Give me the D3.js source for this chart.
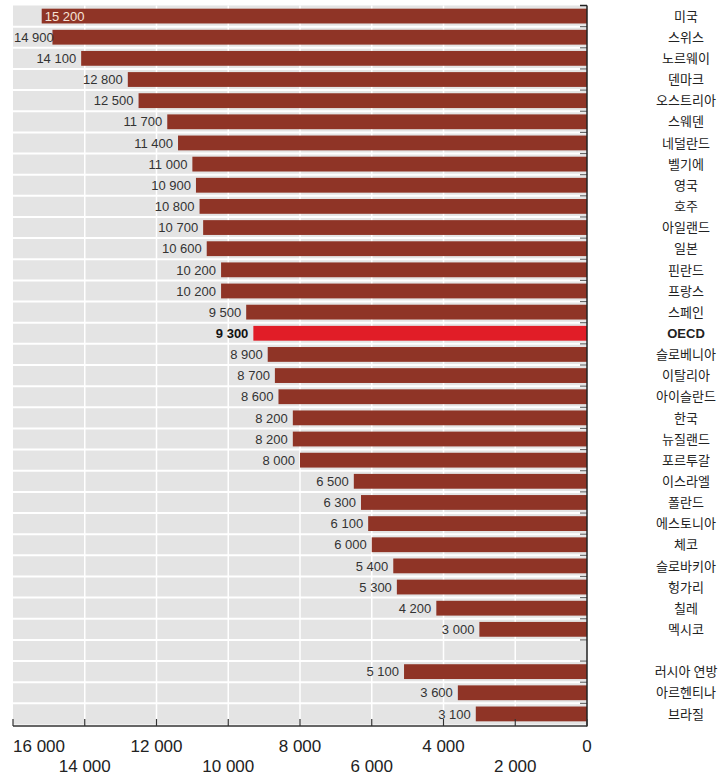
<!DOCTYPE html>
<html><head><meta charset="utf-8">
<script src="https://cdn.jsdelivr.net/npm/d3@7"></script>
<style>
html,body{margin:0;padding:0;background:#fff;}
svg{display:block;}
</style></head>
<body>
<svg id="chart" width="721" height="776"></svg>
<script>
const countries = ["미국","스위스","노르웨이","덴마크","오스트리아","스웨덴","네덜란드","벨기에","영국","호주","아일랜드","일본","핀란드","프랑스","스페인","OECD","슬로베니아","이탈리아","아이슬란드","한국","뉴질랜드","포르투갈","이스라엘","폴란드","에스토니아","체코","슬로바키아","헝가리","칠레","멕시코"];
const values = [15200,14900,14100,12800,12500,11700,11400,11000,10900,10800,10700,10600,10200,10200,9500,9300,8900,8700,8600,8200,8200,8000,6500,6300,6100,6000,5400,5300,4200,3000];
const partnerCountries = ["러시아 연방","아르헨티나","브라질"];
const partnerValues = [5100,3600,3100];
const tickValues = [0,2000,4000,6000,8000,10000,12000,14000,16000];

(function(){
const rows = countries.map((c,i)=>({key:c, name:c, value:values[i]}));
rows.push({key:"__gap", name:"", value:null});
partnerCountries.forEach((c,i)=>rows.push({key:c, name:c, value:partnerValues[i]}));

const svg = d3.select("#chart");
const pL = 13, pR = 587, pT = 5.5, pB = 724.5;
const x = d3.scaleLinear().domain([0,16000]).range([pR,pL]);
const y = d3.scaleBand().domain(rows.map(d=>d.key)).range([pT,pB]).paddingInner(0.3).paddingOuter(0.15);
const step = y.step();
const loc = d3.formatLocale({decimal:".", thousands:" ", grouping:[3], currency:["",""]});
const fmt = loc.format(",");

svg.append("rect").attr("x",pL).attr("y",pT).attr("width",pR-pL).attr("height",pB-pT).attr("fill","#e4e4e4");
svg.append("g").selectAll("line").data(tickValues.filter(v=>v>0&&v<16000)).join("line")
  .attr("x1",d=>x(d)).attr("x2",d=>x(d)).attr("y1",pT).attr("y2",pB)
  .attr("stroke","#fff").attr("stroke-width",1.5);
const bounds = rows.slice(1).map((d)=> y(d.key) - step*y.paddingInner()/2);
svg.append("g").selectAll("line").data(bounds).join("line")
  .attr("x1",pL).attr("x2",pR).attr("y1",d=>d).attr("y2",d=>d)
  .attr("stroke","#fff").attr("stroke-width",2);

const data = rows.filter(d=>d.value!=null);
svg.append("g").selectAll("rect").data(data).join("rect")
  .attr("x",d=>x(d.value)).attr("width",d=>pR-x(d.value))
  .attr("y",d=>y(d.key)).attr("height",y.bandwidth())
  .attr("fill",d=>d.name==="OECD"?"#e11d27":"#8f3426");

svg.append("g").selectAll("line").data(bounds).join("line")
  .attr("x1",pR-7).attr("x2",pR).attr("y1",d=>d).attr("y2",d=>d)
  .attr("stroke","#666").attr("stroke-width",1.2);
svg.append("line").attr("x1",pR-7).attr("x2",pR).attr("y1",pT).attr("y2",pT).attr("stroke","#222").attr("stroke-width",1.5);
svg.append("line").attr("x1",pR).attr("x2",pR).attr("y1",pT).attr("y2",pB+2).attr("stroke","#222").attr("stroke-width",1.5);

const vl = svg.append("g").attr("font-family","'Liberation Sans', Arial, sans-serif").attr("font-size",13);
data.forEach((d,i)=>{
  const t = vl.append("text").text(fmt(d.value)).attr("y",y(d.key)+y.bandwidth()/2).attr("dy","0.36em");
  if(i===0){
    t.attr("x",x(d.value)+3).attr("text-anchor","start").attr("fill","#f6e3d6");
  } else {
    const w = t.node().getComputedTextLength();
    let xe = x(d.value)-5;
    if (xe - w < pL+1) xe = pL+1+w;
    t.attr("x",xe).attr("text-anchor","end").attr("fill", d.name==="OECD"?"#111":"#333")
     .attr("font-weight", d.name==="OECD"?"bold":"normal");
  }
});

const axisY = pB+1.5;
svg.append("line").attr("x1",pL).attr("x2",pR).attr("y1",axisY).attr("y2",axisY).attr("stroke","#333").attr("stroke-width",1.5);
svg.append("g").selectAll("line").data(tickValues).join("line")
  .attr("x1",d=>x(d)).attr("x2",d=>x(d)).attr("y1",axisY).attr("y2",axisY-7)
  .attr("stroke","#333").attr("stroke-width",1.2);
svg.append("g").attr("font-family","'Liberation Sans', Arial, sans-serif").attr("font-size",17).attr("fill","#222")
  .selectAll("text").data(tickValues).join("text")
  .attr("x",d=>d===16000?pL:x(d))
  .attr("y",d=>(d/2000)%2===0?752:772)
  .attr("text-anchor",d=>d===16000?"start":"middle")
  .text(d=>fmt(d));

svg.append("g").attr("font-family","'Noto Sans CJK KR', sans-serif").attr("font-size",13).attr("fill","#222")
  .selectAll("text").data(rows.filter(d=>d.name)).join("text")
  .attr("x",686).attr("y",d=>y(d.key)+y.bandwidth()/2).attr("dy","0.36em")
  .attr("text-anchor","middle")
  .attr("font-weight",d=>d.name==="OECD"?"bold":"normal")
  .attr("font-family",d=>d.name==="OECD"?"'Liberation Sans', Arial, sans-serif":null)
  .text(d=>d.name);
})();
</script>
</body></html>
